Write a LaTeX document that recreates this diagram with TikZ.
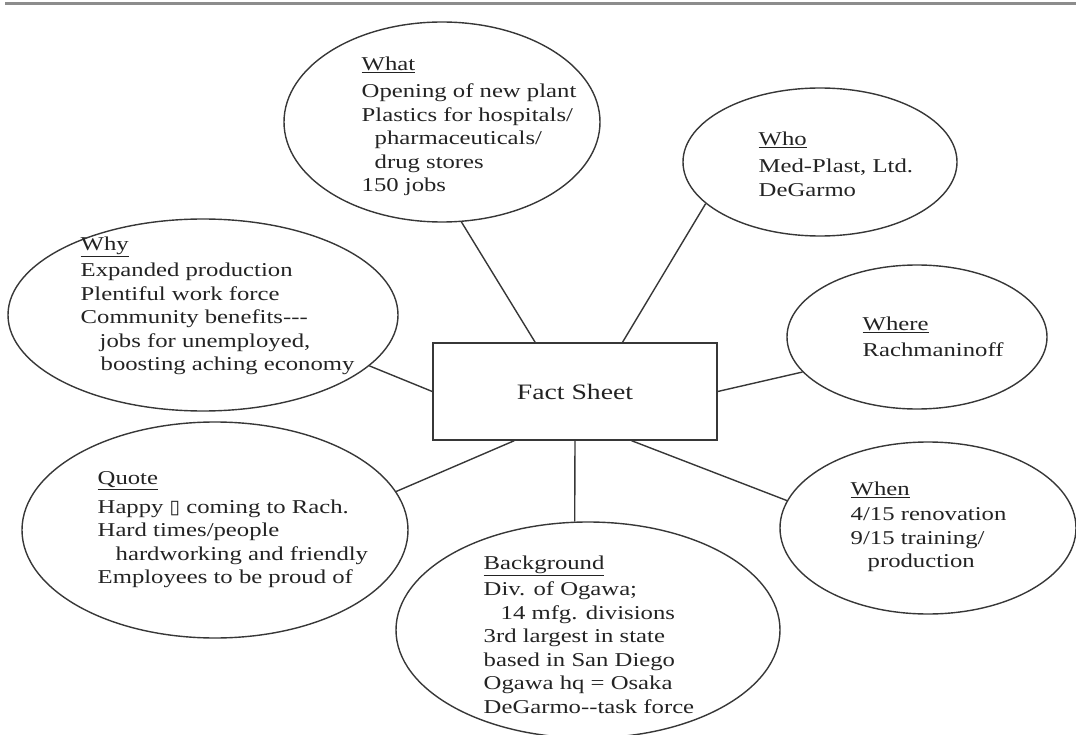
\documentclass[tikz,border=0pt]{standalone}
\usepackage{fontspec}
\setmainfont{Liberation Serif}[FakeStretch=1.26, Ligatures=TeXOff]
\newfontfamily\glyphfont{DejaVu Sans}
\usetikzlibrary{
  shapes.geometric
}
\definecolor{inkgray}{RGB}{55,55,55}
\definecolor{textgray}{RGB}{35,35,35}
\definecolor{rulegray}{RGB}{140,140,140}

\begin{document}
\begin{tikzpicture}[x=1pt, y=-1pt, line width=1.4pt,
  bubble/.style={draw=inkgray, ellipse, inner sep=0pt},
  notes/.style={anchor=north west, inner sep=0pt, align=left, text=textgray,
    font=\fontsize{19.6}{23.5}\selectfont},
  link/.style={draw=inkgray}]
  \useasboundingbox (0,0) rectangle (1076,735);

  % Top rule
  \draw[rulegray, line width=3pt] (5,4) -- (1076,4);

  % Centre box
  \node[draw=inkgray, minimum width=284pt, minimum height=97pt, text=textgray,
    font=\fontsize{22}{26}\selectfont] (sheet) at (575,391.5) {Fact Sheet};

  % Bubbles
  \node[bubble, minimum width=316pt, minimum height=200pt] (what) at (442,122) {};
  \node[bubble, minimum width=274pt, minimum height=148pt] (who) at (820,162) {};
  \node[bubble, minimum width=260pt, minimum height=144pt] (where) at (917,337) {};
  \node[bubble, minimum width=390pt, minimum height=192pt] (why) at (203,315) {};
  \node[bubble, minimum width=386pt, minimum height=216pt] (quote) at (215,530) {};
  \node[bubble, minimum width=384pt, minimum height=216pt] (background) at (588,630) {};
  \node[bubble, minimum width=296pt, minimum height=172pt] (when) at (928,528) {};

  % Notes
  \node[notes] (whattext) at (361,56) {\underline{What}\\[4pt]
    Opening of new plant\\
    Plastics for hospitals/\\
    \hspace*{13pt}pharmaceuticals/\\
    \hspace*{13pt}drug stores\\
    150 jobs};
  \node[notes] (whotext) at (758,131) {\underline{Who}\\[4pt]
    Med-Plast, Ltd.\\
    DeGarmo};
  \node[notes] (wheretext) at (862,316) {\underline{Where}\\[3pt]
    Rachmaninoff};
  \node[notes] (whytext) at (80,236) {\underline{Why}\\[3pt]
    Expanded production\\
    Plentiful work force\\
    Community benefits---\\
    \hspace*{19pt}jobs for unemployed,\\
    \hspace*{20pt}boosting aching economy};
  \node[notes] (quotetext) at (97,471) {\underline{Quote}\\[5pt]
    Happy {\glyphfont\fontsize{19}{20}\selectfont ▯} coming to Rach.\\
    Hard times/people\\
    \hspace*{18pt}hardworking and friendly\\
    Employees to be proud of};
  \node[notes] (backgroundtext) at (483,555) {\underline{Background}\\[3pt]
    Div. of Ogawa;\\
    \hspace*{17pt}14 mfg. divisions\\
    3rd largest in state\\
    based in San Diego\\
    Ogawa hq = Osaka\\
    DeGarmo--task force};
  \node[notes] (whentext) at (850,481) {\underline{When}\\[2pt]
    4/15 renovation\\
    9/15 training/\\
    \hspace*{17pt}production};

  % Links
  \draw[link] (sheet.129.5) -- (what.-79);
  \draw[link] (sheet.46) -- (who.200);
  \draw[link] (sheet.east) -- (where.197);
  \draw[link] (sheet.west) -- (why.-17);
  \draw[link] (sheet.219) -- (quote.12);
  \draw[link] (sheet.south) -- (background.97);
  \draw[link] (sheet.-41.4) -- (when.169);
\end{tikzpicture}
\end{document}
